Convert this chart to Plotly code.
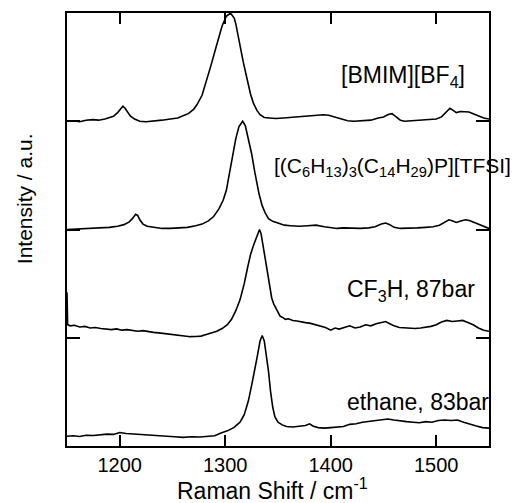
import plotly.graph_objects as go

# ---- data; y values include the stacking offset ----
ethane_x = [1150, 1156, 1162, 1168, 1175, 1182, 1188, 1194, 1200, 1206, 1212, 1220, 1228, 1236, 1244, 1252,
            1260, 1268, 1276, 1284, 1290, 1296, 1302, 1308, 1314, 1318, 1322, 1325, 1328, 1330, 1333, 1335,
            1337, 1339, 1341, 1343, 1345, 1347, 1350, 1354, 1358, 1364, 1371, 1376, 1380, 1383, 1388, 1394,
            1400, 1406, 1412, 1418, 1424, 1430, 1436, 1442, 1448, 1454, 1460, 1466, 1472, 1478, 1484, 1490,
            1496, 1502, 1508, 1514, 1520, 1526, 1532, 1538, 1544, 1550]
ethane_y = [0.09, 0.095, 0.088, 0.10, 0.097, 0.105, 0.11, 0.107, 0.125, 0.115, 0.112, 0.105, 0.10, 0.096, 0.09, 0.086,
            0.08, 0.086, 0.083, 0.09, 0.095, 0.12, 0.14, 0.17, 0.22, 0.29, 0.42, 0.56, 0.70, 0.81, 0.97, 1.02,
            0.97, 0.84, 0.69, 0.50, 0.36, 0.27, 0.22, 0.195, 0.18, 0.175, 0.18, 0.19, 0.205, 0.185, 0.17, 0.165,
            0.17, 0.175, 0.18, 0.20, 0.205, 0.22, 0.228, 0.235, 0.245, 0.25, 0.24, 0.23, 0.225, 0.22, 0.215, 0.225,
            0.22, 0.235, 0.24, 0.235, 0.24, 0.22, 0.20, 0.185, 0.17, 0.165]

cf3h_x = [1150, 1150.6, 1153, 1157, 1162, 1167, 1172, 1177, 1182, 1187, 1192, 1197, 1202, 1207, 1212, 1217,
          1222, 1227, 1232, 1237, 1242, 1247, 1252, 1257, 1262, 1267, 1272, 1277, 1282, 1287, 1292, 1297,
          1302, 1306, 1310, 1314, 1318, 1321, 1324, 1327, 1329, 1331, 1332.5, 1334, 1336, 1338, 1340, 1342,
          1344, 1346, 1348, 1350, 1352, 1354, 1357, 1360, 1364, 1368, 1372, 1376, 1380, 1385, 1390, 1395,
          1400, 1404, 1408, 1413, 1418, 1423, 1428, 1433, 1438, 1443, 1448, 1452, 1456, 1460, 1465, 1470,
          1475, 1480, 1485, 1490, 1495, 1500, 1505, 1510, 1515, 1520, 1525, 1530, 1535, 1540, 1545, 1550]
cf3h_y = [1.42, 1.12, 1.11, 1.115, 1.10, 1.105, 1.09, 1.095, 1.085, 1.08, 1.075, 1.082, 1.07, 1.075, 1.065, 1.06,
          1.066, 1.055, 1.05, 1.045, 1.04, 1.035, 1.03, 1.022, 1.015, 1.01, 1.012, 1.015, 1.03, 1.045, 1.06, 1.085,
          1.12, 1.17, 1.25, 1.35, 1.50, 1.64, 1.77, 1.86, 1.91, 1.97, 2.0, 1.96, 1.84, 1.70, 1.58, 1.46,
          1.37, 1.31, 1.27, 1.23, 1.20, 1.19, 1.17, 1.175, 1.16, 1.155, 1.145, 1.14, 1.135, 1.12, 1.11, 1.095,
          1.07, 1.09, 1.08, 1.095, 1.11, 1.09, 1.10, 1.12, 1.11, 1.13, 1.145, 1.15, 1.13, 1.11, 1.095, 1.09,
          1.09, 1.085, 1.09, 1.095, 1.105, 1.12, 1.145, 1.16, 1.15, 1.155, 1.16, 1.14, 1.12, 1.09, 1.07, 1.06]

tfsi_x = [1150, 1160, 1170, 1180, 1190, 1198, 1204, 1209, 1212, 1215, 1217, 1219, 1222, 1226, 1232, 1240,
          1248, 1256, 1264, 1272, 1278, 1284, 1289, 1294, 1298, 1301, 1304, 1307, 1310, 1313, 1316.5, 1319,
          1321, 1323, 1325, 1328, 1330, 1332, 1335, 1338, 1341, 1345, 1350, 1356, 1362, 1370, 1378, 1386,
          1394, 1400, 1406, 1412, 1420, 1428, 1436, 1442, 1448, 1452, 1456, 1460, 1466, 1474, 1482, 1490,
          1497, 1503, 1508, 1512, 1515, 1519, 1524, 1528, 1532, 1537, 1542, 1546, 1550]
tfsi_y = [2.00, 2.005, 2.01, 2.01, 2.02, 2.03, 2.045, 2.07, 2.10, 2.14, 2.13, 2.09, 2.05, 2.03, 2.02, 2.01,
          2.01, 2.015, 2.02, 2.035, 2.05, 2.08, 2.12, 2.19, 2.27, 2.36, 2.52, 2.68, 2.84, 2.95, 3.0, 2.96,
          2.88, 2.80, 2.70, 2.53, 2.43, 2.33, 2.22, 2.15, 2.10, 2.075, 2.06, 2.04, 2.035, 2.03, 2.035, 2.04,
          2.025, 2.015, 2.01, 2.015, 2.01, 2.01, 2.015, 2.025, 2.05, 2.06, 2.045, 2.02, 2.01, 2.01, 2.015, 2.02,
          2.025, 2.04, 2.07, 2.09, 2.08, 2.065, 2.08, 2.09, 2.08, 2.06, 2.035, 2.02, 2.01]

bmim_x = [1150, 1156, 1162, 1168, 1174, 1180, 1186, 1190, 1194, 1198, 1201, 1203, 1205, 1207, 1210, 1214,
          1219, 1225, 1232, 1240, 1248, 1255, 1260, 1265, 1270, 1273, 1278, 1282, 1286, 1290, 1294, 1297,
          1301, 1305, 1308.6, 1310, 1312, 1314, 1317, 1320, 1322, 1324, 1326.6, 1330, 1333, 1337, 1342, 1348,
          1355, 1362, 1370, 1378, 1386, 1393, 1398, 1404, 1410, 1416, 1422, 1430, 1438, 1445, 1450, 1455,
          1458, 1462, 1466, 1470, 1478, 1486, 1494, 1500, 1505, 1509, 1513, 1516, 1519, 1523, 1527, 1531,
          1535, 1540, 1545, 1550]
bmim_y = [3.00, 3.005, 2.995, 3.01, 3.015, 3.01, 3.02, 3.03, 3.045, 3.08, 3.12, 3.14, 3.12, 3.09, 3.05, 3.02,
          3.00, 2.995, 3.005, 3.01, 3.02, 3.03, 3.05, 3.07, 3.11, 3.15, 3.24, 3.36, 3.50, 3.64, 3.79, 3.88,
          3.97, 4.0, 3.95, 3.90, 3.80, 3.69, 3.55, 3.42, 3.33, 3.25, 3.17, 3.10, 3.06, 3.035, 3.03, 3.025,
          3.03, 3.035, 3.04, 3.045, 3.05, 3.06, 3.055, 3.04, 3.02, 3.005, 3.0, 3.005, 3.01, 3.03, 3.04, 3.065,
          3.07, 3.04, 3.01, 3.0, 3.005, 3.01, 3.015, 3.02, 3.04, 3.08, 3.12, 3.10, 3.08, 3.09, 3.09, 3.085,
          3.07, 3.05, 3.03, 3.02]

labels = ["[BMIM][BF<sub>4</sub>]",
          "[(C<sub>6</sub>H<sub>13</sub>)<sub>3</sub>(C<sub>14</sub>H<sub>29</sub>)P][TFSI]",
          "CF<sub>3</sub>H, 87bar",
          "ethane, 83bar"]
x_ticks = [1200, 1300, 1400, 1500]
y_ticks = [0, 1, 2, 3, 4]

FONT = "Liberation Sans, Arial, sans-serif"

fig = go.Figure()
for xs, ys in [(ethane_x, ethane_y), (cf3h_x, cf3h_y), (tfsi_x, tfsi_y), (bmim_x, bmim_y)]:
    fig.add_trace(go.Scatter(x=xs, y=ys, mode="lines", line=dict(color="black", width=1.6),
                             showlegend=False, hoverinfo="skip"))

fig.update_layout(
    width=516, height=503,
    margin=dict(l=67, r=27, t=13, b=57),
    paper_bgcolor="white", plot_bgcolor="white",
    font=dict(family=FONT, color="black", size=20),
    xaxis=dict(range=[1150, 1550], tickvals=x_ticks, ticks="inside", ticklen=11, tickwidth=1.5,
               tickcolor="black", showline=True, linecolor="black", linewidth=1.5, mirror="ticks",
               showgrid=False, zeroline=False, tickfont=dict(size=20)),
    yaxis=dict(range=[0, 4], tickvals=y_ticks, showticklabels=False, ticks="inside", ticklen=13,
               tickwidth=1.5, tickcolor="black", showline=True, linecolor="black", linewidth=1.5,
               mirror="ticks", showgrid=False, zeroline=False),
)

anns = [
    dict(x=1, xshift=-22, y=3.41, text=labels[0], font_size=23),
    dict(x=1, xshift=24, y=2.58, text=labels[1], font_size=21),
    dict(x=1, xshift=-12, y=1.44, text=labels[2], font_size=23),
    dict(x=1, xshift=2, y=0.41, text=labels[3], font_size=23),
]
for a in anns:
    size = a.pop("font_size")
    fig.add_annotation(**a, xref="paper", yref="y", xanchor="right", yanchor="middle", showarrow=False,
                       font=dict(family=FONT, color="black", size=size))

# axis titles
fig.add_annotation(x=0.5, xref="paper", xshift=-6, y=0, yref="paper", yshift=-43,
                   text="Raman Shift / cm<sup>-1</sup>", showarrow=False,
                   font=dict(family=FONT, size=23, color="black"), xanchor="center", yanchor="middle")
fig.add_annotation(x=0, xref="paper", xshift=-43, y=0.57, yref="paper", text="Intensity / a.u.",
                   textangle=-90, showarrow=False, font=dict(family=FONT, size=21, color="black"),
                   xanchor="center", yanchor="middle")

fig.write_html("out.html")
